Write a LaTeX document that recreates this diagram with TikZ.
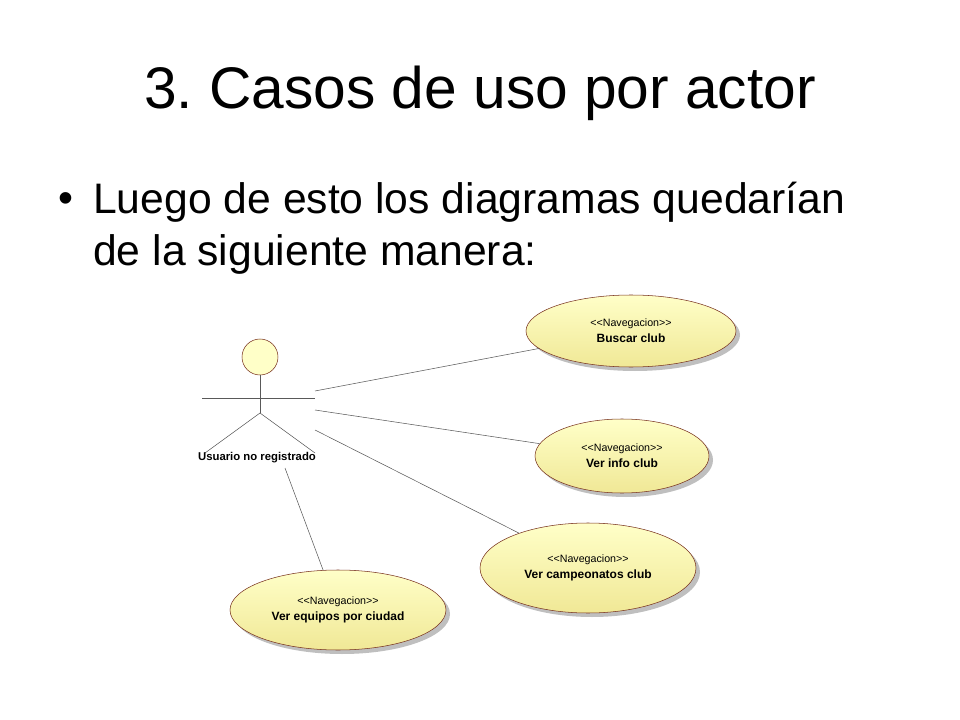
\documentclass[tikz,border=0pt]{standalone}
\usepackage{fontspec}
\setmainfont{Liberation Sans}
\usetikzlibrary{shapes.geometric}
\definecolor{ucfill}{RGB}{255,255,200}
\definecolor{ucdark}{RGB}{240,232,150}
\definecolor{ucline}{RGB}{120,50,30}
\tikzset{
  usecase/.style={ellipse, draw=ucline, thin, inner sep=0pt, top color=ucfill, bottom color=ucdark, align=center, font=\fontsize{9}{12}\selectfont},
  shadowcase/.style={ellipse, fill=black!25, draw=none, inner sep=0pt},
  link/.style={draw=black!65, thin},
}
\newcommand{\stereo}{{\fontsize{8}{9}\selectfont<{}<Navegacion>{}>}}
\begin{document}
\begin{tikzpicture}[x=0.75pt,y=-0.75pt]
\useasboundingbox (0,0) rectangle (960,720);
%%%%%%%%%%%%%%%%%%%%%%%%%%%%%%% slide text
\node[font=\fontsize{44}{48}\selectfont](title) at (480,93){3.\ Casos de uso por actor};
\node[anchor=base west, font=\fontsize{32}{39}\selectfont, inner sep=0pt](bullet) at (58,213){\textbullet};
\node[anchor=base west, align=left, font=\fontsize{32}{39}\selectfont, inner sep=0pt](intro) at (93,266){Luego de esto los diagramas quedarían\\de la siguiente manera:};
%%%%%%%%%%%%%%%%%%%%%%%%%%%%%%% actor
\draw[ucline, fill=ucfill](260,357) circle (18*0.75pt);
\draw[black!65](260,375) -- (260,413);
\draw[black!65](202,398) -- (315,398);
\draw[black!65](205,453) -- (260,413) -- (315,453);
\node[font=\fontsize{8.5}{10}\selectfont\bfseries](actor) at (257,458){Usuario no registrado};
\coordinate(a1) at (315,391);
\coordinate(a2) at (315,410);
\coordinate(a3) at (315,430);
\coordinate(a4) at (285,468);
%%%%%%%%%%%%%%%%%%%%%%%%%%%%%%% use cases
\node[shadowcase, minimum width=210*0.75pt, minimum height=72*0.75pt] at (635,335){};
\node[usecase, minimum width=210*0.75pt, minimum height=72*0.75pt](buscar) at (631,331){\stereo\\\textbf{Buscar club}};
\node[shadowcase, minimum width=174*0.75pt, minimum height=74*0.75pt] at (626,460){};
\node[usecase, minimum width=174*0.75pt, minimum height=74*0.75pt](info) at (622,456){\stereo\\\textbf{Ver info club}};
\node[shadowcase, minimum width=216*0.75pt, minimum height=90*0.75pt] at (592,572){};
\node[usecase, minimum width=216*0.75pt, minimum height=90*0.75pt](camp) at (588,568){\stereo\\\textbf{Ver campeonatos club}};
\node[shadowcase, minimum width=216*0.75pt, minimum height=80*0.75pt] at (342,614){};
\node[usecase, minimum width=216*0.75pt, minimum height=80*0.75pt](equipos) at (338,610){\stereo\\\textbf{Ver equipos por ciudad}};
%%%%%%%%%%%%%%%%%%%%%%%%%%%%%%% associations
\draw[link](a1) -- (buscar);
\draw[link](a2) -- (info);
\draw[link](a3) -- (camp);
\draw[link](a4) -- (equipos);
\end{tikzpicture}
\end{document}
